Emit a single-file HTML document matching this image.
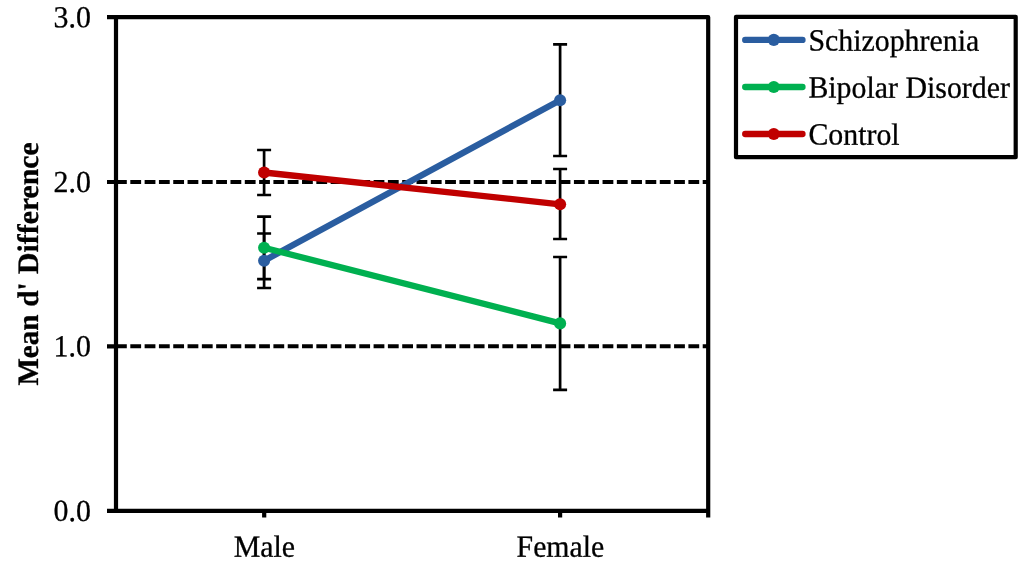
<!DOCTYPE html>
<html>
<head>
<meta charset="utf-8">
<title>Mean d' Difference</title>
<style>
html,body{margin:0;padding:0;background:#fff;}
body{width:1024px;height:568px;overflow:hidden;}
svg{display:block;}
text{font-family:"Liberation Serif","Times New Roman",serif;font-size:30.5px;fill:#000;text-rendering:geometricPrecision;stroke:#000;stroke-width:0.3px;stroke-linejoin:round;}
.b{font-weight:bold;}
</style>
</head>
<body>
<svg width="1024" height="568" viewBox="0 0 1024 568">
<rect x="0" y="0" width="1024" height="568" fill="#fff"/>

<!-- dashed reference lines -->
<g stroke="#000" stroke-width="4.1" fill="none" stroke-dasharray="10.8 3.51">
<line x1="116" y1="182" x2="708" y2="182"/>
<line x1="116" y1="346.3" x2="708" y2="346.3"/>
</g>

<!-- plot frame -->
<g stroke="#000" stroke-width="4.2" fill="none">
<path d="M116 510.9V17.2H708.2V517.5" stroke-linejoin="round"/>
<path d="M107 510.9H708.2"/>
<!-- ticks -->
<path d="M107 17.2H116M107 182H116M107 346.3H116"/>
<path d="M264.2 510.9V517.5M560.1 510.9V517.5"/>
</g>

<!-- error bars -->
<g stroke="#000" stroke-width="2.7" fill="none">
<!-- blue male -->
<path d="M264.1 233.5V288M257.1 233.5H271.1M257.1 288H271.1"/>
<!-- green male -->
<path d="M264.1 216.7V279.2M257.1 216.7H271.1M257.1 279.2H271.1"/>
<!-- red male -->
<path d="M264.1 150V195M257.1 150H271.1M257.1 195H271.1"/>
<!-- blue female -->
<path d="M560.1 44.4V156M553.1 44.4H567.1M553.1 156H567.1"/>
<!-- green female -->
<path d="M560.1 257V389.8M553.1 257H567.1M553.1 389.8H567.1"/>
<!-- red female -->
<path d="M560.1 169V239M553.1 169H567.1M553.1 239H567.1"/>
</g>

<!-- series -->
<g stroke-width="6.3" stroke-linecap="round" fill="none">
<line x1="264.1" y1="260.7" x2="560.1" y2="100.2" stroke="#2A5DA0"/>
<circle cx="264.1" cy="260.7" r="6.05" fill="#2A5DA0" stroke="none"/>
<circle cx="560.1" cy="100.2" r="6.05" fill="#2A5DA0" stroke="none"/>
<line x1="264.1" y1="247.7" x2="560.1" y2="323.4" stroke="#00B050"/>
<circle cx="264.1" cy="247.7" r="6.05" fill="#00B050" stroke="none"/>
<circle cx="560.1" cy="323.4" r="6.05" fill="#00B050" stroke="none"/>
<line x1="264.1" y1="172.5" x2="560.1" y2="204.3" stroke="#C00000"/>
<circle cx="264.1" cy="172.5" r="6.05" fill="#C00000" stroke="none"/>
<circle cx="560.1" cy="204.3" r="6.05" fill="#C00000" stroke="none"/>
</g>

<!-- axis labels -->
<g text-anchor="end">
<text transform="translate(90.9 27.2) rotate(0.05) scale(0.979 1)">3.0</text>
<text transform="translate(90.9 192.0) rotate(0.05) scale(0.979 1)">2.0</text>
<text transform="translate(90.9 356.3) rotate(0.05) scale(0.979 1)">1.0</text>
<text transform="translate(90.9 520.9) rotate(0.05) scale(0.979 1)">0.0</text>
</g>
<g text-anchor="middle">
<text transform="translate(264.4 556.8) rotate(0.05) scale(0.979 1.01)">Male</text>
<text transform="translate(560.4 556.8) rotate(0.05) scale(0.976 1.01)">Female</text>
</g>
<g transform="translate(38.3 263) rotate(-90)">
<text class="b" transform="translate(-122.6 0) scale(0.954 0.975)">Mean </text>
<text class="b" transform="translate(-43.8 0) scale(0.965 0.975)">d' </text>
<text class="b" transform="translate(-10.9 0) scale(0.976 0.975)">Difference</text>
</g>

<!-- legend -->
<rect x="736" y="16.8" width="279.7" height="140.4" fill="#fff" stroke="#000" stroke-width="4.2" stroke-linejoin="round"/>
<g stroke-width="6.3" stroke-linecap="round" fill="none">
<line x1="745.2" y1="39.9" x2="802.5" y2="39.9" stroke="#2A5DA0"/>
<circle cx="773.8" cy="39.9" r="6.05" fill="#2A5DA0" stroke="none"/>
<line x1="745.2" y1="87" x2="802.5" y2="87" stroke="#00B050"/>
<circle cx="773.8" cy="87" r="6.05" fill="#00B050" stroke="none"/>
<line x1="745.2" y1="134" x2="802.5" y2="134" stroke="#C00000"/>
<circle cx="773.8" cy="134" r="6.05" fill="#C00000" stroke="none"/>
</g>
<text transform="translate(808.4 50.6) rotate(0.05) scale(0.979 1.01)">Schizophrenia</text>
<text transform="translate(808.4 97.6) rotate(0.05) scale(0.979 1.01)">Bipolar Disorder</text>
<text transform="translate(808.4 144.6) rotate(0.05) scale(0.979 1.01)">Control</text>
</svg>
</body>
</html>
